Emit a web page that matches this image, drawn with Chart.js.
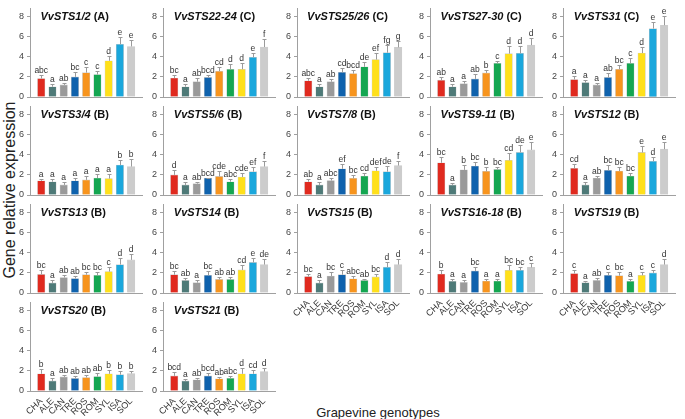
<!DOCTYPE html>
<html>
<head>
<meta charset="utf-8">
<script src="https://cdn.jsdelivr.net/npm/chart.js@4.4.1/dist/chart.umd.min.js"></script>
<style>
  html, body { margin: 0; padding: 0; background: #fff; }
  #wrap { position: relative; width: 685px; height: 419px; overflow: hidden; font-family: "Liberation Sans", Arial, sans-serif; }
  #wrap canvas { position: absolute; }
  .ttl { position: absolute; font-size: 11px; font-weight: bold; line-height: 11px; color: #111; white-space: nowrap; }
  .axt { position: absolute; color: #222; white-space: nowrap; line-height: 1; }
  #ytitle { left: 10px; top: 190px; font-size: 16px; transform: translate(-50%, -50%) rotate(-90deg); }
  #xtitle { left: 378px; top: 412px; font-size: 13px; transform: translate(-50%, -50%); }
</style>
</head>
<body>
<div id="wrap">
  <div class="axt" id="ytitle">Gene relative expression</div>
  <div class="axt" id="xtitle">Grapevine genotypes</div>
</div>
<script>
// genotypes and their bar colours
const genotypes = ['CHA', 'ALE', 'CAN', 'TRE', 'ROS', 'ROM', 'SYL', 'ISA', 'SOL'];
const barColors = ['#e02a1f', '#4e7a78', '#9a9a9a', '#0f62ad', '#f7941d', '#14a651', '#ffe01a', '#1aa7dc', '#cccccc'];
const yTicks = [0, 2, 4, 6, 8];

// means, upper error (SD) and significance letters per gene
const mean_1_2 = [1.83, 1.02, 1.2, 2.0, 2.42, 2.23, 3.6, 5.24, 5.02];
const err_1_2  = [0.37, 0.28, 0.23, 0.45, 0.53, 0.37, 0.5, 0.71, 0.68];
const sig_1_2  = ['abc', 'a', 'ab', 'bc', 'c', 'c', 'd', 'e', 'e'];

const mean_22_24 = [1.89, 1.02, 1.52, 1.95, 2.57, 2.76, 2.76, 3.94, 4.96];
const err_22_24  = [0.34, 0.25, 0.34, 0.25, 0.4, 0.54, 0.62, 0.46, 0.84];
const sig_22_24  = ['bc', 'a', 'ab', 'bcd', 'cd', 'd', 'd', 'e', 'f'];

const mean_25_26 = [1.61, 1.02, 1.52, 2.45, 2.33, 3.0, 3.72, 4.4, 4.93];
const err_25_26  = [0.25, 0.25, 0.28, 0.43, 0.37, 0.47, 0.68, 0.78, 0.62];
const sig_25_26  = ['abc', 'a', 'ab', 'cd', 'bcd', 'de', 'ef', 'fg', 'g'];

const mean_27_30 = [1.67, 1.02, 1.33, 1.8, 2.39, 3.35, 4.31, 4.34, 5.15];
const err_27_30  = [0.28, 0.23, 0.27, 0.5, 0.34, 0.25, 0.79, 0.76, 0.75];
const sig_27_30  = ['ab', 'a', 'a', 'ab', 'b', 'c', 'd', 'd', 'd'];

const mean_31 = [1.74, 1.43, 1.2, 1.95, 2.76, 3.35, 4.37, 6.79, 7.13];
const err_31  = [0.31, 0.24, 0.16, 0.45, 0.46, 0.55, 0.63, 0.65, 0.93];
const sig_31  = ['a', 'a', 'a', 'ab', 'bc', 'c', 'd', 'e', 'e'];

const mean_3_4 = [1.41, 1.32, 1.0, 1.41, 1.5, 1.69, 1.63, 2.98, 2.82];
const err_3_4  = [0.22, 0.28, 0.25, 0.28, 0.38, 0.35, 0.41, 0.47, 0.72];
const sig_3_4  = ['a', 'a', 'a', 'a', 'a', 'a', 'a', 'b', 'b'];

const mean_5_6 = [2.0, 1.0, 1.13, 1.69, 1.85, 1.32, 1.79, 2.32, 2.82];
const err_5_6  = [0.5, 0.25, 0.19, 0.03, 0.5, 0.25, 0.41, 0.47, 0.53];
const sig_5_6  = ['d', 'a', 'ab', 'bcd', 'cde', 'abc', 'cde', 'ef', 'f'];

const mean_7_8 = [1.32, 1.0, 1.44, 2.6, 1.66, 1.88, 2.41, 2.32, 2.92];
const err_7_8  = [0.22, 0.25, 0.25, 0.47, 0.31, 0.34, 0.41, 0.53, 0.5];
const sig_7_8  = ['ab', 'a', 'abc', 'ef', 'bc', 'cd', 'def', 'de', 'f'];

const mean_9_11 = [3.2, 1.0, 2.5, 2.88, 2.35, 2.54, 3.45, 4.23, 4.48];
const err_9_11  = [0.56, 0.2, 0.48, 0.41, 0.47, 0.25, 0.69, 0.72, 0.75];
const sig_9_11  = ['bc', 'a', 'b', 'bc', 'b', 'bc', 'cd', 'de', 'e'];

const mean_12 = [2.66, 1.0, 1.69, 2.45, 2.38, 1.88, 4.23, 3.35, 4.55];
const err_12  = [0.44, 0.25, 0.22, 0.53, 0.41, 0.28, 0.63, 0.41, 0.68];
const sig_12  = ['cd', 'a', 'ab', 'bc', 'bc', 'bc', 'e', 'd', 'e'];

const mean_13 = [1.85, 1.0, 1.54, 1.44, 1.82, 1.76, 2.13, 2.82, 3.29];
const err_13  = [0.41, 0.25, 0.28, 0.28, 0.31, 0.28, 0.47, 0.63, 0.63];
const sig_13  = ['bc', 'a', 'ab', 'ab', 'bc', 'bc', 'c', 'd', 'd'];

const mean_14 = [1.82, 1.25, 1.03, 1.76, 1.35, 1.35, 2.29, 3.04, 2.82];
const err_14  = [0.37, 0.25, 0.29, 0.43, 0.28, 0.22, 0.47, 0.46, 0.57];
const sig_14  = ['bc', 'ab', 'a', 'bc', 'ab', 'ab', 'cd', 'e', 'de'];

const mean_15 = [1.63, 1.0, 1.69, 1.82, 1.41, 1.25, 1.6, 2.57, 2.82];
const err_15  = [0.25, 0.25, 0.35, 0.44, 0.28, 0.19, 0.28, 0.47, 0.53];
const sig_15  = ['bc', 'a', 'bc', 'c', 'abc', 'ab', 'bc', 'd', 'd'];

const mean_16_18 = [1.88, 1.16, 1.05, 2.19, 1.19, 1.19, 2.26, 2.26, 2.54];
const err_16_18  = [0.41, 0.22, 0.2, 0.38, 0.22, 0.19, 0.5, 0.37, 0.41];
const sig_16_18  = ['b', 'a', 'a', 'bc', 'a', 'a', 'bc', 'bc', 'c'];

const mean_19 = [1.94, 1.03, 1.25, 1.76, 1.72, 1.16, 1.76, 2.0, 2.82];
const err_19  = [0.35, 0.16, 0.25, 0.37, 0.32, 0.19, 0.37, 0.26, 0.57];
const sig_19  = ['c', 'a', 'ab', 'c', 'bc', 'a', 'c', 'c', 'd'];

const mean_20 = [1.71, 1.0, 1.4, 1.25, 1.34, 1.43, 1.71, 1.62, 1.74];
const err_20  = [0.44, 0.25, 0.22, 0.25, 0.28, 0.35, 0.38, 0.38, 0.28];
const sig_20  = ['b', 'a', 'ab', 'ab', 'ab', 'ab', 'b', 'b', 'b'];

const mean_21 = [1.5, 1.0, 1.12, 1.5, 1.21, 1.26, 1.71, 1.71, 1.93];
const err_21  = [0.34, 0.18, 0.18, 0.24, 0.22, 0.27, 0.53, 0.38, 0.37];
const sig_21  = ['bcd', 'a', 'ab', 'bcd', 'ab', 'abc', 'd', 'cd', 'd'];

const panels = [
  ['VvSTS1/2', 'A', mean_1_2, err_1_2, sig_1_2],
  ['VvSTS22-24', 'C', mean_22_24, err_22_24, sig_22_24],
  ['VvSTS25/26', 'C', mean_25_26, err_25_26, sig_25_26],
  ['VvSTS27-30', 'C', mean_27_30, err_27_30, sig_27_30],
  ['VvSTS31', 'C', mean_31, err_31, sig_31],
  ['VvSTS3/4', 'B', mean_3_4, err_3_4, sig_3_4],
  ['VvSTS5/6', 'B', mean_5_6, err_5_6, sig_5_6],
  ['VvSTS7/8', 'B', mean_7_8, err_7_8, sig_7_8],
  ['VvSTS9-11', 'B', mean_9_11, err_9_11, sig_9_11],
  ['VvSTS12', 'B', mean_12, err_12, sig_12],
  ['VvSTS13', 'B', mean_13, err_13, sig_13],
  ['VvSTS14', 'B', mean_14, err_14, sig_14],
  ['VvSTS15', 'B', mean_15, err_15, sig_15],
  ['VvSTS16-18', 'B', mean_16_18, err_16_18, sig_16_18],
  ['VvSTS19', 'B', mean_19, err_19, sig_19],
  ['VvSTS20', 'B', mean_20, err_20, sig_20],
  ['VvSTS21', 'B', mean_21, err_21, sig_21],
];

const FONT = '"Liberation Sans", Arial, sans-serif';
const AXIS = '#a0a0a0';
Chart.defaults.font.family = FONT;

// error whiskers + letters, drawn through the y scale
function errorBars(mean, err, sig) {
  return {
    id: 'errorBars',
    afterDatasetsDraw(chart) {
      const { ctx, scales: { y } } = chart;
      const bars = chart.getDatasetMeta(0).data;
      ctx.save();
      ctx.strokeStyle = '#9a9a9a';
      ctx.lineWidth = 1;
      ctx.fillStyle = '#333';
      ctx.font = '8.5px ' + FONT;
      ctx.textAlign = 'center';
      ctx.textBaseline = 'alphabetic';
      bars.forEach((bar, i) => {
        const y0 = y.getPixelForValue(mean[i]);
        const y1 = Math.round(y.getPixelForValue(mean[i] + err[i])) + 0.5;
        const x = Math.round(bar.x) + 0.5;
        ctx.beginPath();
        ctx.moveTo(x, y0);
        ctx.lineTo(x, y1);
        ctx.moveTo(x - 2, y1);
        ctx.lineTo(x + 2, y1);
        ctx.stroke();
        ctx.fillText(sig[i], bar.x, y1 - 2.5);
      });
      ctx.restore();
    }
  };
}

const wrap = document.getElementById('wrap');

panels.forEach(([gene, group, mean, err, sig], i) => {
  const col = i % 5, row = Math.floor(i / 5);
  const axisX = 30 + col * 133.3;
  const rowTop = row * 98;
  const showLabels = (row === 2 && col >= 2) || row === 3;

  const cv = document.createElement('canvas');
  cv.width = 145; cv.height = 127;
  cv.style.left = Math.round(axisX - 20) + 'px';
  cv.style.top = rowTop + 'px';
  wrap.appendChild(cv);

  const ttl = document.createElement('div');
  ttl.className = 'ttl';
  ttl.style.left = (axisX + 10.5) + 'px';
  ttl.style.top = (rowTop + 10.7) + 'px';
  ttl.innerHTML = '<i>' + gene + '</i> (' + group + ')';
  wrap.appendChild(ttl);

  new Chart(cv, {
    type: 'bar',
    data: {
      datasets: [{
        data: mean.map((v, k) => ({ x: k + 1, y: v })),
        backgroundColor: barColors,
        borderColor: 'rgba(0,0,0,0.2)',
        borderWidth: 0.6,
        barThickness: 7.5,
      }]
    },
    options: {
      responsive: false,
      animation: false,
      events: [],
      layout: { padding: { top: 3, right: 5, left: 0, bottom: 0 } },
      plugins: { legend: { display: false }, tooltip: { enabled: false } },
      scales: {
        x: {
          type: 'linear', min: 0, max: 10, offset: false,
          afterFit: s => { s.height = 30; },
          grid: { display: false, drawTicks: false, offset: false },
          border: { display: true, color: AXIS, width: 1 },
          ticks: {
            stepSize: 1, autoSkip: false, minRotation: 45, maxRotation: 45,
            padding: 5, color: '#333', font: { size: 9 },
            callback: v => (showLabels && v >= 1 && v <= 9) ? genotypes[v - 1] : ''
          }
        },
        y: {
          min: 0, max: 8.8,
          afterFit: s => { s.width = 20; },
          afterBuildTicks: s => { s.ticks = yTicks.map(v => ({ value: v })); },
          grid: { display: true, drawOnChartArea: false, drawTicks: true, tickLength: 3, color: AXIS },
          border: { display: true, color: AXIS, width: 1 },
          ticks: { padding: 3, color: '#444', font: { size: 9 } }
        }
      }
    },
    plugins: [errorBars(mean, err, sig)]
  });
});
</script>
</body>
</html>
